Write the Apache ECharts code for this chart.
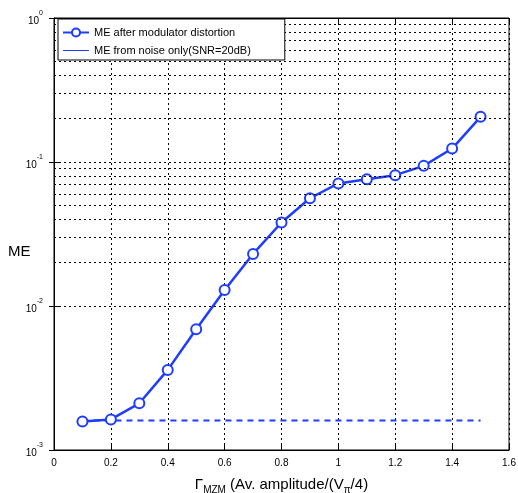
<!DOCTYPE html>
<html>
<head>
<meta charset="utf-8">
<script src="https://cdn.jsdelivr.net/npm/echarts@6/dist/echarts.min.js"></script>
<style>
  html, body { margin: 0; padding: 0; background: #fff; }
  #chart { width: 518px; height: 493px; }
</style>
</head>
<body>
<div id="chart"></div>
<script>
// values
const gammaMZM = [0.1, 0.2, 0.3, 0.4, 0.5, 0.6, 0.7, 0.8, 0.9, 1.0, 1.1, 1.2, 1.3, 1.4, 1.5];
const meDistortion = [0.00158, 0.00163, 0.00211, 0.0036, 0.0069, 0.0129, 0.023, 0.038, 0.056, 0.071, 0.076, 0.081, 0.094, 0.124, 0.206];
const noiseX = [0.1, 1.5];
const meNoise = [0.0016, 0.0016];
// minor log grid lines (2..9 x each decade)
const yMinorGrid = [0.002, 0.003, 0.004, 0.005, 0.006, 0.007, 0.008, 0.009,
  0.02, 0.03, 0.04, 0.05, 0.06, 0.07, 0.08, 0.09,
  0.2, 0.3, 0.4, 0.5, 0.6, 0.7, 0.8, 0.9];
const yTickExp = { 0.001: '-3', 0.01: '-2', 0.1: '-1', 1: '0' };

const blue = '#1f3dff';
const font = 'Liberation Sans, Arial, sans-serif';
const gridLine = { show: true, lineStyle: { color: '#000', type: [2, 3], width: 1 } };

const chart = echarts.init(document.getElementById('chart'));

chart.setOption({
  animation: false,
  textStyle: { fontFamily: font },
  grid: {
    left: 54, right: 9, top: 18, bottom: 43,
    containLabel: false, outerBoundsMode: 'none',
    show: true, borderColor: '#000', borderWidth: 1
  },
  // y axis title sits a bit below the axis middle in the original
  graphic: [{
    type: 'text', left: 8, top: 244, z: 10,
    style: { text: 'ME', fontSize: 15, fill: '#000', fontFamily: font }
  }],
  legend: {
    orient: 'vertical',
    left: 58, top: 19, z: 20,
    backgroundColor: '#fff',
    borderColor: '#000', borderWidth: 1,
    padding: [8, 34, 4, 4],
    itemGap: 7,
    itemWidth: 26, itemHeight: 10,
    textStyle: { fontSize: 11, color: '#000', fontFamily: font },
    data: [
      { name: 'ME after modulator distortion' },
      { name: 'ME from noise only(SNR=20dB)', icon: 'path://M0 0 L0 0 M0 4.5 L26 4.5 L26 5.5 L0 5.5 Z M26 10 L26 10' }
    ]
  },
  xAxis: [{
    type: 'value', min: 0, max: 1.6, interval: 0.2,
    name: '{g|Γ}{sub|MZM}{t| (Av. amplitude/(V}{sub|π}{t|/4)}',
    nameLocation: 'middle', nameGap: 25,
    nameTextStyle: {
      rich: {
        g: { fontSize: 15, color: '#000', fontFamily: font, lineHeight: 20 },
        t: { fontSize: 15, color: '#000', fontFamily: font, lineHeight: 20 },
        sub: { fontSize: 10, color: '#000', fontFamily: font, verticalAlign: 'bottom', lineHeight: 20 }
      }
    },
    axisLine: { lineStyle: { color: '#000' } },
    axisTick: { inside: true, length: 5, lineStyle: { color: '#000' } },
    axisLabel: { color: '#000', fontSize: 10, margin: 8, formatter: v => String(+v.toFixed(1)) },
    splitLine: gridLine
  }, {
    type: 'value', min: 0, max: 1.6, interval: 0.2, position: 'top',
    axisLine: { show: true, lineStyle: { color: '#000' } },
    axisTick: { inside: true, length: 5, lineStyle: { color: '#000' } },
    axisLabel: { show: false }, splitLine: { show: false }
  }],
  yAxis: [{
    type: 'log', logBase: 10, min: 0.001, max: 1,
    axisLine: { lineStyle: { color: '#000' } },
    axisTick: { inside: true, length: 5, lineStyle: { color: '#000' } },
    axisLabel: {
      margin: 11,
      formatter: v => '{b|10}{s|' + (yTickExp[v] || '') + '}',
      rich: {
        b: { fontSize: 10, color: '#000', fontFamily: font, lineHeight: 16, verticalAlign: 'bottom' },
        s: { fontSize: 7, color: '#000', fontFamily: font, lineHeight: 16, verticalAlign: 'top' }
      }
    },
    splitLine: gridLine
  }, {
    type: 'log', logBase: 10, min: 0.001, max: 1, position: 'right',
    axisLine: { show: true, lineStyle: { color: '#000' } },
    axisTick: { inside: true, length: 5, lineStyle: { color: '#000' } },
    axisLabel: { show: false }, splitLine: { show: false }
  }],
  series: [
    {
      name: 'ME after modulator distortion',
      type: 'line',
      data: gammaMZM.map((x, i) => [x, meDistortion[i]]),
      symbol: 'emptyCircle', symbolSize: 10,
      color: blue,
      itemStyle: { color: blue, borderWidth: 2.5 },
      lineStyle: { color: blue, width: 2.5 },
      z: 4
    },
    {
      name: 'ME from noise only(SNR=20dB)',
      type: 'line',
      data: noiseX.map((x, i) => [x, meNoise[i]]),
      symbol: 'none',
      color: blue,
      lineStyle: { color: blue, width: 2, type: [6, 5] },
      z: 3,
      markLine: {
        silent: true, symbol: 'none', animation: false,
        label: { show: false },
        lineStyle: { color: '#000', type: [2, 3], width: 1 },
        data: yMinorGrid.map(v => ({ yAxis: v }))
      }
    }
  ]
});
</script>
</body>
</html>
